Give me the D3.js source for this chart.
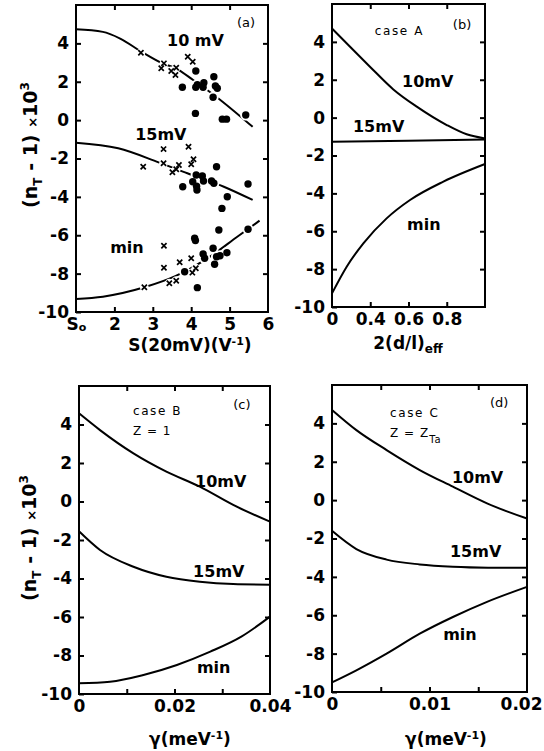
<!DOCTYPE html>
<html>
<head>
<meta charset="utf-8">
<script src="https://cdn.jsdelivr.net/npm/d3@7"></script>
<style>
  body { margin: 0; background: #fff; }
  text { font-family: "DejaVu Sans", sans-serif; fill: #000; }
</style>
</head>
<body>
<script>
// ---- data ----
const yTickVals = [-10, -8, -6, -4, -2, 0, 2, 4]

// (a) n_T - 1 vs S(20mV), S0 taken as 1
const aCurve10 = [[1, 4.73], [1.7, 4.6], [2.15, 4.25], [2.7, 3.57], [3.25, 2.96], [3.6, 2.7], [4.05, 2.09], [4.65, 1.22], [5.6, -0.35]]
const aCurve15 = [[1, -1.18], [2.1, -1.47], [3.15, -2.2], [3.9, -2.77], [4.85, -3.47], [5.6, -4.16]]
const aCurveMin = [[1, -9.32], [1.7, -9.2], [2.8, -8.7], [3.6, -8.12], [4.5, -7.1], [5.2, -6.08], [5.78, -5.24]]
const aCross10 = [[2.69, 3.51], [3.29, 2.96], [3.22, 2.7], [3.48, 2.56], [3.61, 2.73], [3.59, 2.35], [3.91, 3.3], [4.04, 3.04]]
const aDot10 = [[4.12, 2.56], [3.77, 1.71], [4.12, 1.71], [4.16, 1.84], [4.33, 1.95], [4.31, 1.71], [4.59, 2.26], [4.63, 1.78], [4.68, 1.66], [4.57, 1.19], [4.11, 0.35], [4.81, 0.05], [4.92, 0.05], [5.42, 0.27]]
const aCross15 = [[2.75, -2.43], [3.28, -1.51], [3.28, -2.25], [3.51, -2.72], [3.61, -2.56], [3.68, -2.34], [3.93, -1.39], [4.06, -2.04], [4.0, -2.3]]
const aDot15 = [[3.78, -3.47], [4.13, -2.86], [4.04, -3.21], [4.15, -3.64], [4.14, -3.45], [4.29, -2.91], [4.32, -3.17], [4.53, -3.17], [4.59, -3.29], [4.66, -2.43], [4.94, -3.99], [4.8, -4.6], [5.48, -3.33]]
const aCrossMin = [[3.29, -6.55], [3.29, -7.69], [2.78, -8.71], [3.43, -8.5], [3.61, -8.37], [3.7, -7.41], [4.0, -7.2], [4.03, -7.95], [4.12, -7.72]]
const aDotMin = [[4.72, -5.73], [4.09, -6.16], [4.11, -6.28], [3.83, -7.9], [4.31, -6.98], [4.35, -7.2], [4.57, -6.68], [4.61, -7.51], [4.66, -7.12], [4.75, -7.07], [4.93, -6.91], [4.16, -8.73], [5.48, -5.69]]
const aXTickVals = [1, 2, 3, 4, 5, 6]
const aXTickText = ["S", "2", "3", "4", "5", "6"]

// (b) case A, vs 2(d/l)_eff
const bCurve10 = [[0, 4.71], [0.118, 3.74], [0.248, 2.69], [0.401, 1.49], [0.554, 0.58], [0.75, -0.39], [0.88, -0.88], [1, -1.1]]
const bCurve15 = [[0, -1.27], [0.5, -1.22], [1, -1.15]]
const bCurveMin = [[0, -9.28], [0.096, -7.87], [0.205, -6.64], [0.357, -5.32], [0.51, -4.35], [0.728, -3.38], [1, -2.45]]
const bXTickVals = [0, 0.25, 0.5, 0.75]
const bXTickText = ["0", "0.4", "0.6", "0.8"]

// (c) case B, Z = 1, vs gamma
const cCurve10 = [[0, 4.58], [0.0044, 3.71], [0.0114, 2.5], [0.0183, 1.55], [0.0253, 0.77], [0.0323, -0.18], [0.04, -1.05]]
const cCurve15 = [[0, -1.55], [0.0044, -2.52], [0.0114, -3.39], [0.0183, -3.91], [0.0253, -4.17], [0.0323, -4.29], [0.04, -4.32]]
const cCurveMin = [[0, -9.44], [0.0065, -9.36], [0.0135, -9.01], [0.0205, -8.49], [0.0275, -7.8], [0.034, -7.02], [0.04, -5.98]]
const cXTickVals = [0, 0.02, 0.04]
const cXTickText = ["0", "0.02", "0.04"]

// (d) case C, Z = Z_Ta, vs gamma
const dCurve10 = [[0, 4.7], [0.0025, 3.65], [0.0056, 2.61], [0.009, 1.57], [0.0124, 0.7], [0.0159, -0.17], [0.02, -0.96]]
const dCurve15 = [[0, -1.6], [0.0025, -2.55], [0.0056, -3.1], [0.009, -3.35], [0.0124, -3.47], [0.016, -3.52], [0.02, -3.53]]
const dCurveMin = [[0, -9.5], [0.0025, -8.87], [0.0056, -8.0], [0.009, -6.96], [0.0124, -6.09], [0.0159, -5.3], [0.02, -4.52]]
const dXTickVals = [0, 0.01, 0.02]
const dXTickText = ["0", "0.01", "0.02"]

const W = 544, H = 751
const FONT = "DejaVu Sans"

const svg = d3.select("body").append("svg")
  .attr("width", W).attr("height", H)
  .attr("viewBox", [0, 0, W, H])

svg.append("rect").attr("width", W).attr("height", H).attr("fill", "#fff")

const panels = [
  {
    box: [76, 5, 268, 312], xDomain: [1, 6], minor: [2, 3, 4, 5],
    labelVals: aXTickVals, labelText: aXTickText,
    curves: [aCurve10, aCurve15, aCurveMin],
    crosses: [...aCross10, ...aCross15, ...aCrossMin],
    dots: [...aDot10, ...aDot15, ...aDotMin],
    notes: [
      { t: "(a)", x: 5.19, y: 4.85, s: 13, w: "normal" },
      { t: "10 mV", x: 3.37, y: 3.86 },
      { t: "15mV", x: 2.54, y: -1.04 },
      { t: "min", x: 1.89, y: -6.93 }
    ]
  },
  {
    box: [332, 4, 485, 307], xDomain: [0, 1], minor: [0.25, 0.5, 0.75],
    labelVals: bXTickVals, labelText: bXTickText,
    curves: [bCurve10, bCurve15, bCurveMin],
    notes: [
      { t: "(b)", x: 0.79, y: 4.68, s: 13, w: "normal" },
      { t: "case A", x: 0.28, y: 4.36, s: 12, w: "normal", ls: 1.6 },
      { t: "10mV", x: 0.458, y: 1.62 },
      { t: "15mV", x: 0.137, y: -0.76 },
      { t: "min", x: 0.49, y: -5.93 }
    ]
  },
  {
    box: [79, 386, 270, 694], xDomain: [0, 0.04], minor: [0.01, 0.02, 0.03],
    labelVals: cXTickVals, labelText: cXTickText,
    curves: [cCurve10, cCurve15, cCurveMin],
    notes: [
      { t: "(c)", x: 0.0323, y: 4.81, s: 13, w: "normal" },
      { t: "case B", x: 0.0113, y: 4.49, s: 12, w: "normal", ls: 1.6 },
      { t: "Z = 1", x: 0.0113, y: 3.45, s: 12, w: "normal", ls: 1 },
      { t: "10mV", x: 0.0243, y: 0.75 },
      { t: "15mV", x: 0.0239, y: -3.92 },
      { t: "min", x: 0.0247, y: -8.91 }
    ]
  },
  {
    box: [332, 385, 527, 692], xDomain: [0, 0.02], minor: [0.005, 0.01, 0.015],
    labelVals: dXTickVals, labelText: dXTickText,
    curves: [dCurve10, dCurve15, dCurveMin],
    notes: [
      { t: "(d)", x: 0.0162, y: 4.85, s: 13, w: "normal" },
      { t: "case C", x: 0.00595, y: 4.33, s: 12, w: "normal", ls: 1.6 },
      { t: "10mV", x: 0.0123, y: 0.89 },
      { t: "15mV", x: 0.0121, y: -2.97 },
      { t: "min", x: 0.0114, y: -7.29 }
    ],
    zta: { x: 0.00595, y: 3.29 }
  }
]

function styleAxis(g, size) {
  g.attr("font-family", FONT).attr("font-size", size).attr("font-weight", "bold")
  g.select(".domain").remove()
  g.selectAll(".tick line").attr("stroke", "#000").attr("stroke-width", 2)
}

function drawPanel(p) {
  const [x0, y0, x1, y1] = p.box
  const x = d3.scaleLinear().domain(p.xDomain).range([x0, x1])
  const y = d3.scaleLinear().domain([-10, 6]).range([y1, y0])
  const g = svg.append("g")

  // inward ticks on all four sides
  g.append("g").attr("transform", `translate(${x0},0)`)
    .call(d3.axisLeft(y).tickValues(yTickVals).tickSize(-5).tickPadding(7).tickFormat(d => d))
    .call(a => styleAxis(a, 17))
  g.append("g").attr("transform", `translate(${x1},0)`)
    .call(d3.axisRight(y).tickValues(yTickVals.slice(1)).tickSize(-5).tickFormat(""))
    .call(a => styleAxis(a, 17))
  g.append("g").attr("transform", `translate(0,${y1})`)
    .call(d3.axisBottom(x).tickValues(p.minor).tickSize(-5).tickFormat(""))
    .call(a => styleAxis(a, 17))
  g.append("g").attr("transform", `translate(0,${y0})`)
    .call(d3.axisTop(x).tickValues(p.minor).tickSize(-5).tickFormat(""))
    .call(a => styleAxis(a, 17))
  // x tick labels
  const lab = g.append("g").attr("transform", `translate(0,${y1})`)
    .call(d3.axisBottom(x).tickValues(p.labelVals).tickSize(0).tickPadding(6)
      .tickFormat((d, i) => p.labelText[i]))
    .call(a => styleAxis(a, 17))
  if (p.labelText[0] === "S") {
    lab.select(".tick text").append("tspan").attr("font-size", 11).attr("dy", "0.1em").text("o")
  }
  // keep the last label inside the page
  lab.selectAll(".tick text").each(function () {
    const b = this.getBBox()
    const tx = x(d3.select(this.parentNode).datum())
    const over = tx + b.x + b.width - (W - 2)
    if (over > 0) d3.select(this).attr("dx", -over)
  })

  const line = d3.line().x(d => x(d[0])).y(d => y(d[1])).curve(d3.curveMonotoneX)
  g.append("g").attr("fill", "none").attr("stroke", "#000").attr("stroke-width", 2)
    .selectAll("path").data(p.curves).join("path").attr("d", line)

  // white halos break the fitted curves under the markers
  if (p.dots) {
    const halo = g.append("g").attr("fill", "#fff")
    halo.selectAll("circle.hd").data(p.dots).join("circle")
      .attr("cx", d => x(d[0])).attr("cy", d => y(d[1])).attr("r", 5.6)
    halo.selectAll("circle.hc").data(p.crosses).join("circle")
      .attr("cx", d => x(d[0])).attr("cy", d => y(d[1])).attr("r", 4.4)
    g.append("g").selectAll("circle").data(p.dots).join("circle")
      .attr("cx", d => x(d[0])).attr("cy", d => y(d[1])).attr("r", 3.7).attr("fill", "#000")
    g.append("g").attr("stroke", "#000").attr("stroke-width", 1.7).attr("fill", "none")
      .selectAll("path").data(p.crosses).join("path")
      .attr("d", d => {
        const cx = x(d[0]), cy = y(d[1]), r = 2.6
        return `M${cx - r},${cy - r}L${cx + r},${cy + r}M${cx - r},${cy + r}L${cx + r},${cy - r}`
      })
  }

  // frame
  g.append("rect").attr("x", x0).attr("y", y0).attr("width", x1 - x0).attr("height", y1 - y0)
    .attr("fill", "none").attr("stroke", "#000").attr("stroke-width", 2)

  g.append("g").selectAll("text").data(p.notes).join("text")
    .attr("x", d => x(d.x)).attr("y", d => y(d.y))
    .attr("font-size", d => d.s || 16).attr("font-weight", d => d.w || "bold")
    .attr("letter-spacing", d => d.ls || 0)
    .text(d => d.t)

  if (p.zta) {
    const t = g.append("text").attr("x", x(p.zta.x)).attr("y", y(p.zta.y))
      .attr("font-size", 12).attr("letter-spacing", 1)
    t.append("tspan").text("Z = Z")
    t.append("tspan").attr("font-size", 10).attr("dy", 6).text("Ta")
  }
  return { x, y }
}

panels.forEach(drawPanel)

// axis titles
function yTitle(cx, cy) {
  const t = svg.append("text").attr("transform", `translate(${cx},${cy}) rotate(-90)`)
    .attr("text-anchor", "middle").attr("font-size", 19).attr("font-weight", "bold")
  t.append("tspan").text("(n")
  t.append("tspan").attr("font-size", 12).attr("dy", 5).text("T")
  t.append("tspan").attr("dy", -5).text(" - 1) ")
  t.append("tspan").attr("font-size", 13).text("×")
  t.append("tspan").text("10")
  t.append("tspan").attr("font-size", 12).attr("dy", -8).text("3")
}
yTitle(37, 145)
yTitle(36, 538)

function xTitle(cx, cy, parts) {
  const t = svg.append("text").attr("x", cx).attr("y", cy)
    .attr("text-anchor", "middle").attr("font-size", 17).attr("font-weight", "bold")
  parts.forEach(p => t.append("tspan").attr("font-size", p.s || null).attr("dy", p.dy || 0).text(p.t))
}
xTitle(190, 351, [{ t: "S(20mV)(V" }, { t: "-1", s: 11, dy: -6 }, { t: ")", dy: 6 }])
xTitle(408, 349, [{ t: "2(d/l)" }, { t: "eff", s: 12, dy: 4 }])
xTitle(190, 745, [{ t: "γ(meV" }, { t: "-1", s: 11, dy: -6 }, { t: ")", dy: 6 }])
xTitle(446, 745, [{ t: "γ(meV" }, { t: "-1", s: 11, dy: -6 }, { t: ")", dy: 6 }])
</script>
</body>
</html>
